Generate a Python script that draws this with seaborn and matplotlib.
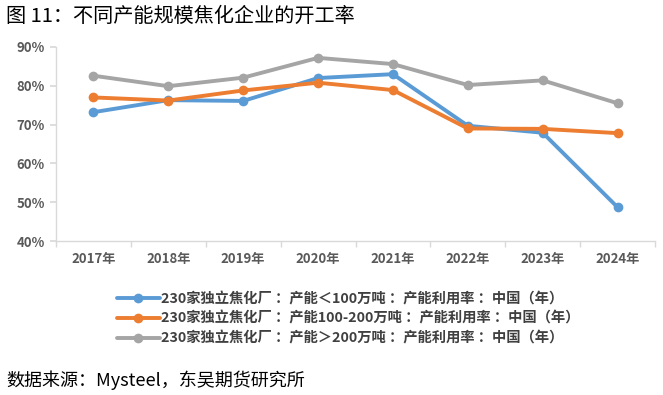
import matplotlib
matplotlib.use("Agg")
import matplotlib.pyplot as plt
import seaborn as sns
import pandas as pd
from matplotlib.ticker import FuncFormatter

years = ["2017年", "2018年", "2019年", "2020年", "2021年", "2022年", "2023年", "2024年"]
small = [73.2, 76.3, 76.1, 82.0, 83.0, 69.7, 67.9, 48.7]
medium = [77.0, 76.2, 78.8, 80.8, 78.9, 69.0, 68.9, 67.8]
large = [82.6, 79.9, 82.1, 87.2, 85.6, 80.2, 81.4, 75.5]
series_names = [
    "230家独立焦化厂 ：产能＜100万吨 ：产能利用率 ：中国（年）",
    "230家独立焦化厂 ：产能100-200万吨 ：产能利用率 ：中国（年）",
    "230家独立焦化厂 ：产能＞200万吨 ：产能利用率 ：中国（年）",
]
colors = ["#5B9BD5", "#ED7D31", "#A5A5A5"]

rows = []
for name, vals in zip(series_names, [small, medium, large]):
    for y, v in zip(years, vals):
        rows.append({"year": y, "value": v, "series": name})
df = pd.DataFrame(rows)

sns.set_theme(style="white")
plt.rcParams["font.family"] = ["Noto Sans CJK SC", "DejaVu Sans"]

fig = plt.figure(figsize=(6.63, 3.95), dpi=100)
ax = fig.add_axes([56 / 663, 1 - 241 / 395, (655 - 56) / 663, (241 - 47) / 395])

sns.lineplot(data=df, x="year", y="value", hue="series", palette=colors,
             marker="o", markersize=7, markeredgewidth=0, linewidth=2.8,
             sort=False, ax=ax, legend=True)

ax.set_xlim(-0.5, 7.5)
ax.set_ylim(40, 90)
ax.set_yticks([40, 50, 60, 70, 80, 90])
ax.yaxis.set_major_formatter(FuncFormatter(lambda v, p: f"{int(v)}%"))
ax.set_xlabel("")
ax.set_ylabel("")

for s in ["top", "right"]:
    ax.spines[s].set_visible(False)
for s in ["left", "bottom"]:
    ax.spines[s].set_color("#D9D9D9")
    ax.spines[s].set_linewidth(1.0)

ax.set_xticks(range(len(years)))
ax.set_xticklabels(years)
ax.set_xticks([i + 0.5 for i in range(-1, len(years))], minor=True)
ax.tick_params(axis="x", which="major", length=0, pad=8, labelsize=9.5, labelcolor="#595959")
ax.tick_params(axis="x", which="minor", length=4, color="#D9D9D9", direction="out", bottom=True)
ax.tick_params(axis="y", which="major", length=4, color="#D9D9D9", direction="out", left=True,
               labelsize=9.5, labelcolor="#595959", pad=4)
for lbl in ax.get_xticklabels() + ax.get_yticklabels():
    lbl.set_fontweight("bold")

handles, labels = ax.get_legend_handles_labels()
ax.get_legend().remove()
leg = fig.legend(handles, labels, loc="upper left", bbox_to_anchor=(104 / 663, 1 - 279 / 395),
                 frameon=False, handlelength=3.0, handletextpad=0.1, labelspacing=0.4,
                 prop={"size": 10.3, "weight": "bold"})
for t in leg.get_texts():
    t.set_color("#404040")

fig.text(6 / 663, 1 - 16 / 395, "图 11：不同产能规模焦化企业的开工率", fontsize=14.5,
         va="center", ha="left", color="#000000")
fig.text(6 / 663, 1 - 380 / 395, "数据来源：Mysteel，东吴期货研究所", fontsize=13,
         va="center", ha="left", color="#000000")

fig.savefig("out.png", dpi=100)
